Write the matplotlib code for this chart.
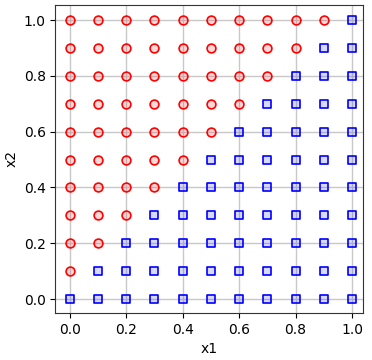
import matplotlib
matplotlib.use("Agg")
import matplotlib.pyplot as plt

grid_vals = [0.0, 0.1, 0.2, 0.3, 0.4, 0.5, 0.6, 0.7, 0.8, 0.9, 1.0]
# labels[i][j]: row i -> x2 = grid_vals[i], column j -> x1 = grid_vals[j]; 1 = red circle, 0 = blue square
labels = [
    [0, 0, 0, 0, 0, 0, 0, 0, 0, 0, 0],
    [1, 0, 0, 0, 0, 0, 0, 0, 0, 0, 0],
    [1, 1, 0, 0, 0, 0, 0, 0, 0, 0, 0],
    [1, 1, 1, 0, 0, 0, 0, 0, 0, 0, 0],
    [1, 1, 1, 1, 0, 0, 0, 0, 0, 0, 0],
    [1, 1, 1, 1, 1, 0, 0, 0, 0, 0, 0],
    [1, 1, 1, 1, 1, 1, 0, 0, 0, 0, 0],
    [1, 1, 1, 1, 1, 1, 1, 0, 0, 0, 0],
    [1, 1, 1, 1, 1, 1, 1, 1, 0, 0, 0],
    [1, 1, 1, 1, 1, 1, 1, 1, 1, 0, 0],
    [1, 1, 1, 1, 1, 1, 1, 1, 1, 1, 0],
]

red_x, red_y, blue_x, blue_y = [], [], [], []
for i, yv in enumerate(grid_vals):
    for j, xv in enumerate(grid_vals):
        if labels[i][j] == 1:
            red_x.append(xv); red_y.append(yv)
        else:
            blue_x.append(xv); blue_y.append(yv)

fig = plt.figure(figsize=(3.72, 3.6), dpi=100)
ax = fig.add_axes([0.149, 0.1306, 0.827, 0.8556])
ax.grid(True, color="#c8c8c8", linewidth=1.0, zorder=0)
ax.set_axisbelow(True)
ax.scatter(red_x, red_y, marker="o", s=40, facecolors=(1, 0, 0, 0.15),
           edgecolors="red", linewidths=1.2, zorder=3)
ax.scatter(blue_x, blue_y, marker="s", s=40, facecolors=(0, 0, 1, 0.15),
           edgecolors="blue", linewidths=1.2, zorder=3)
ax.set_xlim(-0.051, 1.039)
ax.set_ylim(-0.05, 1.054)
ax.set_xticks([0.0, 0.2, 0.4, 0.6, 0.8, 1.0])
ax.set_yticks([0.0, 0.2, 0.4, 0.6, 0.8, 1.0])
ax.set_xlabel("x1")
ax.set_ylabel("x2")
for sp in ax.spines.values():
    sp.set_color("#333333")
fig.savefig("out.png", dpi=100)
